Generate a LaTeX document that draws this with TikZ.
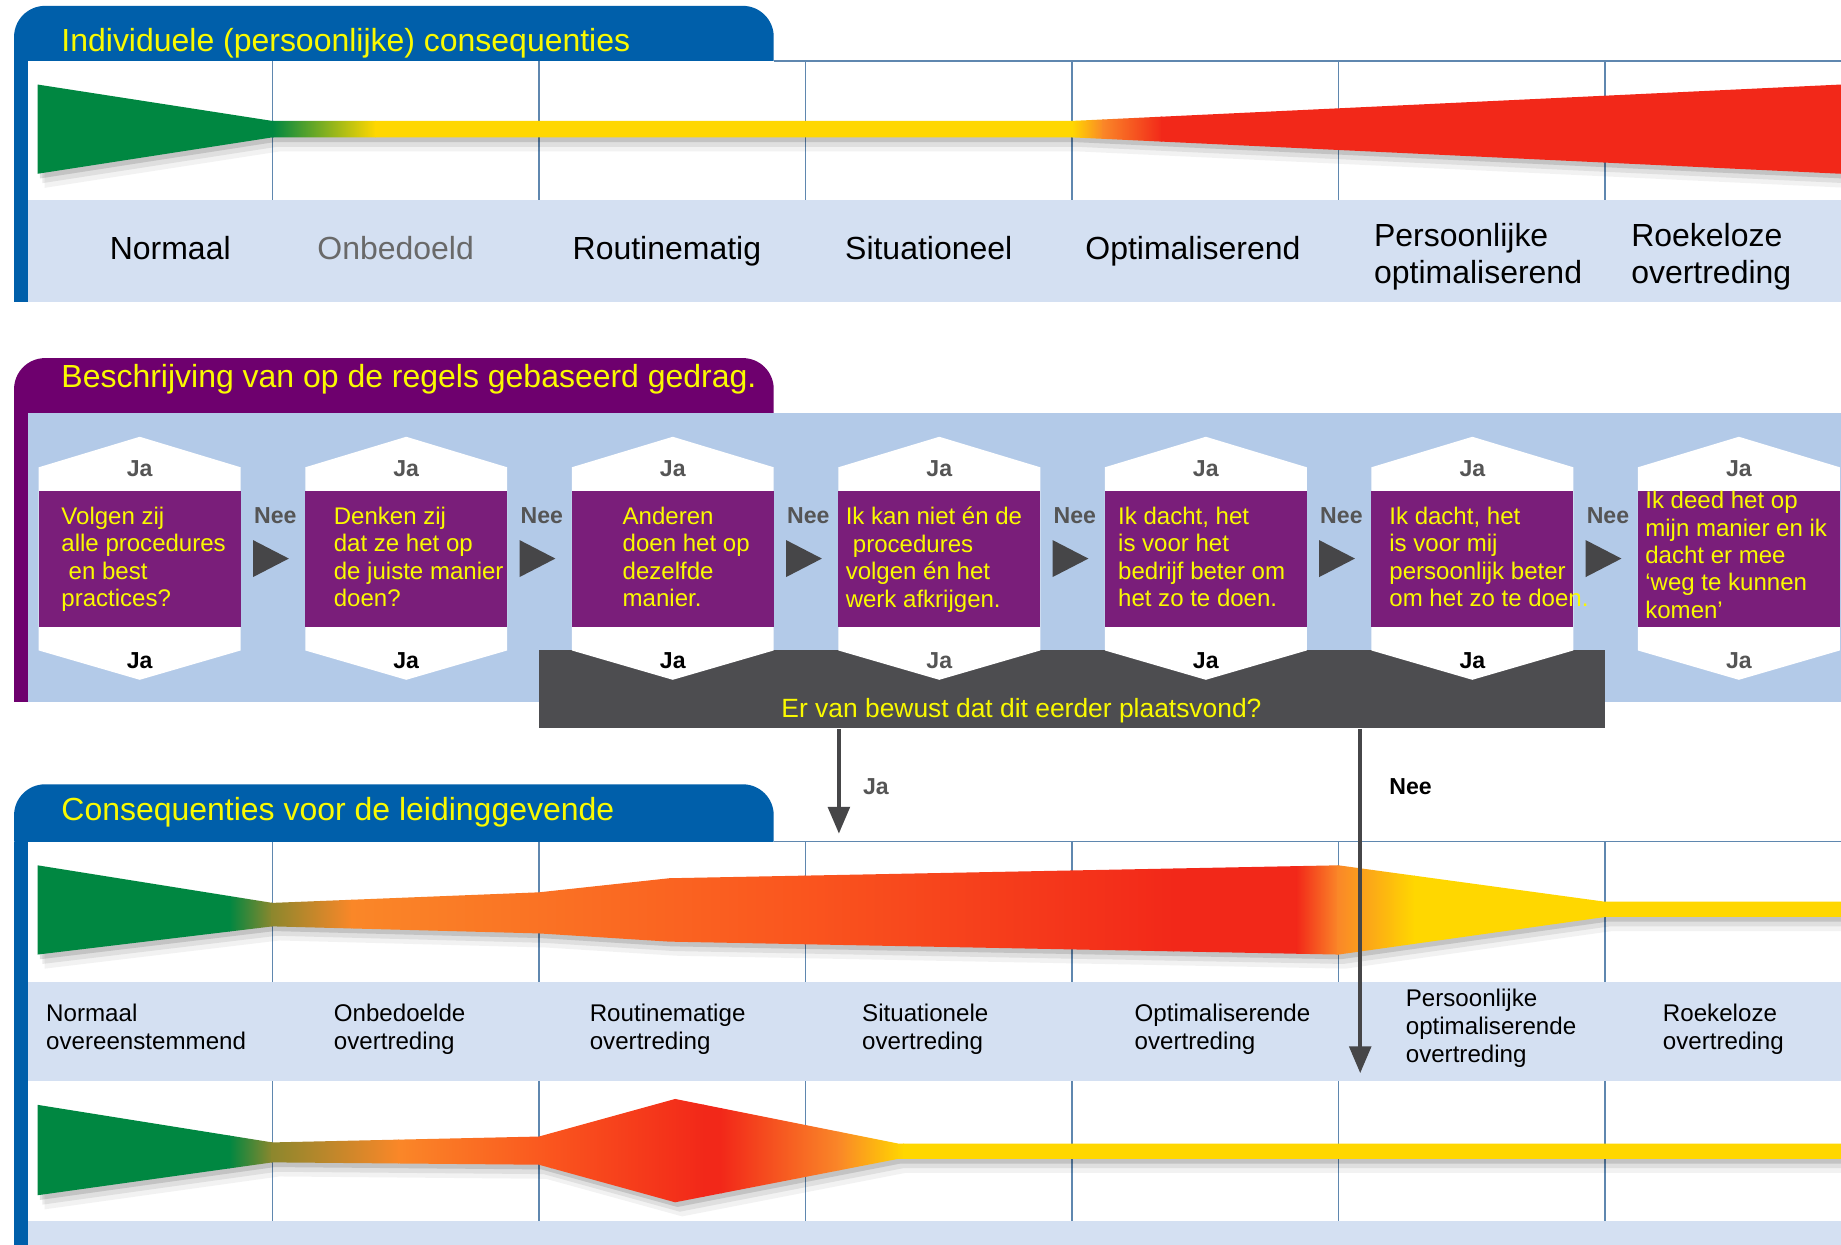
\documentclass[tikz,border=0pt]{standalone}
\usepackage{fontspec}
\setmainfont{Liberation Sans}
\usetikzlibrary{arrows.meta}

\definecolor{tabblue}{RGB}{0,95,170}
\definecolor{tabpurple}{RGB}{110,0,110}
\definecolor{boxpurple}{RGB}{122,30,122}
\definecolor{titleyellow}{RGB}{250,250,0}
\definecolor{bandblue}{RGB}{212,224,242}
\definecolor{panelblue}{RGB}{179,202,232}
\definecolor{gridblue}{RGB}{95,135,175}
\definecolor{darkbar}{RGB}{77,77,80}
\definecolor{arrowgray}{RGB}{70,70,72}
\definecolor{labelgray}{RGB}{85,85,85}
\definecolor{onbedoeldgray}{RGB}{105,105,105}
\definecolor{cgreen}{RGB}{0,135,65}
\definecolor{colive}{RGB}{140,135,45}
\definecolor{cyellow}{RGB}{255,215,0}
\definecolor{corange}{RGB}{250,135,40}
\definecolor{credorange}{RGB}{250,85,30}
\definecolor{cred}{RGB}{242,40,25}

\tikzset{
  tabtitle/.style={anchor=base west, inner sep=0pt, text=titleyellow, font=\fontsize{15.5}{18}\selectfont},
  bandlabel/.style={inner sep=0pt, align=left, font=\fontsize{15.5}{18}\selectfont},
  leaderlabel/.style={anchor=north west, inner sep=0pt, align=left, font=\fontsize{11.7}{13.65}\selectfont},
  qbox/.style={fill=boxpurple, inner sep=0pt, minimum width=3.44cm, minimum height=2.32cm},
  qtext/.style={anchor=north west, inner sep=0pt, align=left, text=titleyellow, font=\fontsize{11.65}{13.3}\selectfont},
  janee/.style={anchor=base, inner sep=0pt, font=\bfseries\fontsize{11.2}{12}\selectfont},
  gridline/.style={gridblue, line width=0.6pt},
  flow/.style={arrowgray, line width=1.8pt, -{Triangle[length=13pt,width=10.5pt]}},
}

\begin{document}
\begin{tikzpicture}[x=0.02cm, y=-0.02cm]
	\useasboundingbox (0,0) rectangle (1568,1060);
	\fill[white] (0,0) rectangle (1568,1060);

	\fill[tabblue, rounded corners=15] (12,5) rectangle (659,80);
	\fill[tabblue] (12,52) rectangle (24,257);
	\fill[white] (24,52) rectangle (1568,170);
	\fill[bandblue] (24,170) rectangle (1568,257);
	\draw[gridline] (659,52) -- (1568,52);
	\foreach \x in {232,459,686,913,1140,1367}
	\draw[gridline] (\x,52) -- (\x,170);
	\node[tabtitle] (titleindiv) at (52,44) {Individuele (persoonlijke) consequenties};

	\def\barindiv{(32,72) -- (232,103) -- (913,103) -- (1568,72) -- (1568,148) -- (913,117) -- (232,117) -- (32,148) -- cycle}
	\foreach \s/\o in {2/0.12, 4/0.08, 6/0.05}
	\fill[black, opacity=\o, shift={(\s,2*\s)}] \barindiv;
	\begin{scope}
		\clip \barindiv;
		\fill[cgreen] (30,60) rectangle (233,160);
		\shade[left color=cgreen, right color=cyellow] (232,60) rectangle (320,160);
		\fill[cyellow] (319,60) rectangle (914,160);
		\shade[left color=cyellow, right color=corange] (913,60) rectangle (940,160);
		\shade[left color=corange, right color=cred] (939,60) rectangle (990,160);
		\fill[cred] (989,60) rectangle (1570,160);
	\end{scope}

	\node[bandlabel, anchor=base] (l1) at (145,221) {Normaal};
	\node[bandlabel, anchor=base, text=onbedoeldgray] (l2) at (337,221) {Onbedoeld};
	\node[bandlabel, anchor=base] (l3) at (568,221) {Routinematig};
	\node[bandlabel, anchor=base] (l4) at (791,221) {Situationeel};
	\node[bandlabel, anchor=base] (l5) at (1016,221) {Optimaliserend};
	\node[bandlabel, anchor=north west] (l6) at (1170,190) {Persoonlijke\\optimaliserend};
	\node[bandlabel, anchor=north west] (l7) at (1389,190) {Roekeloze\\overtreding};

	\fill[tabpurple, rounded corners=15] (12,305) rectangle (659,380);
	\fill[tabpurple] (12,352) rectangle (24,598);
	\fill[panelblue] (24,352) rectangle (1568,598);
	\node[tabtitle] (titlegedrag) at (52,330) {Beschrijving van op de regels gebaseerd gedrag.};

	\node[fill=darkbar, inner sep=0pt, anchor=north west, minimum width=18.16cm, minimum height=1.34cm] (bewust) at (459,553) {};
	\node[inner sep=0pt, text=titleyellow, font=\fontsize{12.8}{15}\selectfont] (bewusttxt) at (870,605) {Er van bewust dat dit eerder plaatsvond?};

	\foreach \i/\cx/\tx/\ty/\jc/\txt in {
		1/119/52/431.5/black/{Volgen zij\\alle procedures\\\hspace*{.3em}en best\\practices?},
		2/346/284/431.5/black/{Denken zij\\dat ze het op\\de juiste manier\\doen?},
		3/573/530/431.5/black/{Anderen\\doen het op\\dezelfde\\manier.},
		4/800/720/431.5/labelgray/{Ik kan niet én de\\\hspace*{.3em}procedures\\volgen én het\\werk afkrijgen.},
		5/1027/952/431.5/black/{Ik dacht, het\\is voor het\\bedrijf beter om\\het zo te doen.},
		6/1254/1183/431.5/black/{Ik dacht, het\\is voor mij\\persoonlijk beter\\om het zo te doen.},
		7/1481/1401/418/labelgray/{Ik deed het op\\mijn manier en ik\\dacht er mee\\‘weg te kunnen\\komen’}}{
		\fill[white] (\cx-86,398) -- (\cx,372) -- (\cx+86,398) -- (\cx+86,554) -- (\cx,579) -- (\cx-86,554) -- cycle;
		\node[qbox] (q\i) at (\cx,476) {};
		\node[qtext] (q\i txt) at (\tx,\ty) {\txt};
		\node[janee, text=labelgray] (q\i top) at (\cx,405.5) {Ja};
		\node[janee, text=\jc] (q\i bot) at (\cx,569) {Ja};
	}
	\foreach \i [evaluate=\i as \mx using 232.5+227*(\i-1)] in {1,...,6}{
		\fill[arrowgray] (\mx-17,460) -- (\mx+13.5,475.75) -- (\mx-17,491.5) -- cycle;
		\node[janee, text=labelgray] (nee\i) at (\mx+2,446) {Nee};
	}

	\fill[tabblue, rounded corners=15] (12,668) rectangle (659,740);
	\fill[tabblue] (12,717) rectangle (24,1060);
	\fill[white] (24,717) rectangle (1568,836);
	\fill[bandblue] (24,836) rectangle (1568,921);
	\fill[white] (24,921) rectangle (1568,1040);
	\fill[bandblue] (24,1040) rectangle (1568,1060);
	\draw[gridline] (659,717) -- (1568,717);
	\foreach \x in {232,459,686,913,1140,1367}{
		\draw[gridline] (\x,717) -- (\x,836);
		\draw[gridline] (\x,921) -- (\x,1040);
	}
	\node[tabtitle] (titleleid) at (52,699) {Consequenties voor de leidinggevende};

	\def\barleidA{(32,737) -- (232,769) -- (459,760) -- (570,748) -- (1140,737) -- (1367,768) -- (1568,768) -- (1568,781) -- (1367,781) -- (1140,813) -- (570,802) -- (459,795) -- (232,789) -- (32,813) -- cycle}
	\foreach \s/\o in {2/0.12, 4/0.08, 6/0.05}
	\fill[black, opacity=\o, shift={(\s,2*\s)}] \barleidA;
	\begin{scope}
		\clip \barleidA;
		\fill[cgreen] (30,720) rectangle (196,830);
		\shade[left color=cgreen, right color=colive] (195,720) rectangle (232,830);
		\shade[left color=colive, right color=corange] (231,720) rectangle (300,830);
		\shade[left color=corange, right color=credorange] (299,720) rectangle (686,830);
		\shade[left color=credorange, right color=cred] (685,720) rectangle (1000,830);
		\fill[cred] (999,720) rectangle (1105,830);
		\shade[left color=cred, right color=corange] (1104,720) rectangle (1140,830);
		\shade[left color=corange, right color=cyellow] (1139,720) rectangle (1205,830);
		\fill[cyellow] (1204,720) rectangle (1570,830);
	\end{scope}

	\def\barleidB{(32,941) -- (232,973) -- (459,968) -- (575,936) -- (765,974) -- (1568,974) -- (1568,987) -- (765,987) -- (575,1024) -- (459,992) -- (232,990) -- (32,1018) -- cycle}
	\foreach \s/\o in {2/0.12, 4/0.08, 6/0.05}
	\fill[black, opacity=\o, shift={(\s,2*\s)}] \barleidB;
	\begin{scope}
		\clip \barleidB;
		\fill[cgreen] (30,925) rectangle (196,1035);
		\shade[left color=cgreen, right color=colive] (195,925) rectangle (232,1035);
		\shade[left color=colive, right color=corange] (231,925) rectangle (340,1035);
		\shade[left color=corange, right color=credorange] (339,925) rectangle (470,1035);
		\shade[left color=credorange, right color=cred] (469,925) rectangle (600,1035);
		\fill[cred] (599,925) rectangle (615,1035);
		\shade[left color=cred, right color=corange] (614,925) rectangle (715,1035);
		\shade[left color=corange, right color=cyellow] (714,925) rectangle (770,1035);
		\fill[cyellow] (769,925) rectangle (1570,1035);
	\end{scope}

	\foreach \i/\x/\y/\txt in {
		1/39/855/{Normaal\\overeenstemmend},
		2/284/855/{Onbedoelde\\overtreding},
		3/502/855/{Routinematige\\overtreding},
		4/734/855/{Situationele\\overtreding},
		5/966/855/{Optimaliserende\\overtreding},
		6/1197/842/{Persoonlijke\\optimaliserende\\overtreding},
		7/1416/855/{Roekeloze\\overtreding}}
	\node[leaderlabel] (m\i) at (\x,\y) {\txt};

	\coordinate (jaend) at (714.5,710);
	\coordinate (neeend) at (1158.5,914);
	\draw[flow] (bewust.south -| jaend) -- (jaend);
	\draw[flow] (bewust.south -| neeend) -- (neeend);
	\node[janee, text=labelgray] (jalabel) at (746,677) {Ja};
	\node[janee, anchor=base west] (neelabel) at (1183,677) {Nee};
\end{tikzpicture}
\end{document}
